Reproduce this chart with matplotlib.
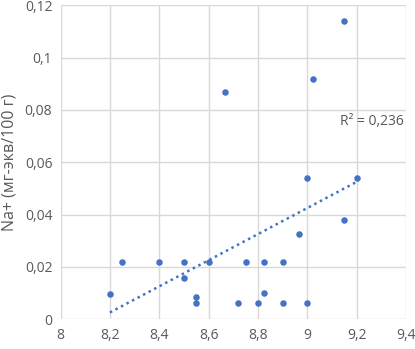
import numpy as np
import matplotlib.pyplot as plt
from matplotlib.ticker import FuncFormatter

plt.rcParams['font.family'] = ['Open Sans', 'DejaVu Sans']

# pH и Na+ (мг-экв/100 г)
ph = [8.2, 8.25, 8.4, 8.5, 8.5, 8.55, 8.55, 8.6, 8.665, 8.72, 8.75, 8.8,
      8.825, 8.825, 8.9, 8.9, 8.965, 9.0, 9.0, 9.022, 9.15, 9.15, 9.2]
na = [0.0095, 0.022, 0.022, 0.022, 0.0157, 0.0087, 0.0061, 0.022, 0.087, 0.0061,
      0.022, 0.0061, 0.022, 0.010, 0.022, 0.0061, 0.0325, 0.054, 0.0061, 0.092,
      0.1139, 0.0379, 0.054]

x_ticks = [8, 8.2, 8.4, 8.6, 8.8, 9, 9.2, 9.4]
y_ticks = [0, 0.02, 0.04, 0.06, 0.08, 0.1, 0.12]

blue = '#4472C4'
grey_text = '#595959'

fig = plt.figure(figsize=(4.15, 3.49), dpi=100)
ax = fig.add_axes([0.146, 0.085, 0.832, 0.90])

ax.scatter(ph, na, s=22, color=blue, zorder=3, linewidths=0)

# линия тренда
k, b = np.polyfit(ph, na, 1)
xt = np.array([min(ph), max(ph)])
ax.plot(xt, k * xt + b, linestyle=(0, (1, 1.5)), color=blue, linewidth=1.8, zorder=2)
ax.text(9.39, 0.0755, 'R² = 0,236',
        ha='right', va='center', fontsize=10, color=grey_text)

ax.set_xlim(8, 9.4)
ax.set_ylim(0, 0.12)
ax.set_xticks(x_ticks)
ax.set_yticks(y_ticks)


def comma(v, pos):
    return ('%g' % round(v, 4)).replace('.', ',')


ax.xaxis.set_major_formatter(FuncFormatter(comma))
ax.yaxis.set_major_formatter(FuncFormatter(comma))

ax.grid(True, color='#d9d9d9', linewidth=1)
ax.set_axisbelow(True)
for s in ax.spines.values():
    s.set_visible(False)
ax.tick_params(axis='both', length=0, labelsize=10, labelcolor=grey_text, pad=6)

ax.set_ylabel('Na+ (мг-экв/100 г)', fontsize=11.5, color=grey_text, labelpad=5)

plt.savefig('out.png', dpi=100)
